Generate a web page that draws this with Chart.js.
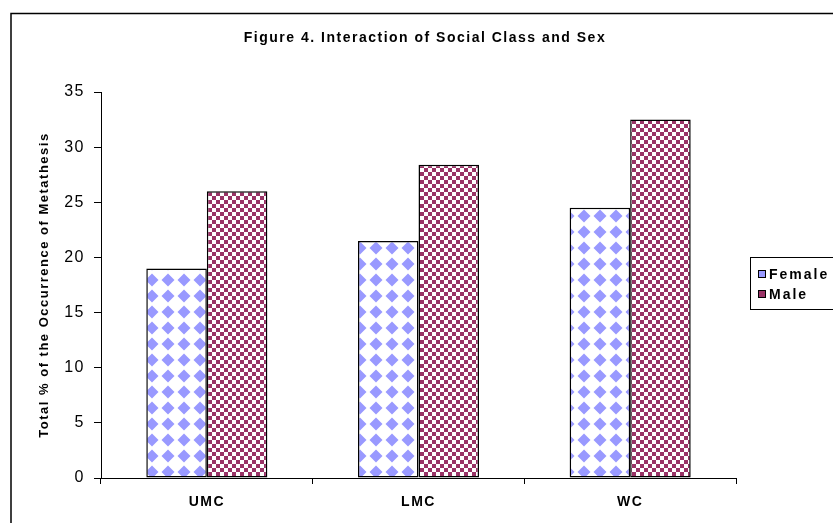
<!DOCTYPE html>
<html>
<head>
<meta charset="utf-8">
<script src="https://cdn.jsdelivr.net/npm/chart.js@4/dist/chart.umd.min.js"></script>
<style>
  html, body { margin: 0; padding: 0; background: #fff; }
  #wrap { width: 833px; height: 523px; }
</style>
</head>
<body>
<div id="wrap"><canvas id="chart" width="833" height="523"></canvas></div>
<script>
// Data
const classes = ['UMC', 'LMC', 'WC'];
const femaleValues = [19, 21.5, 24.5];
const maleValues = [26, 28.4, 32.5];
const seriesNames = ['Female', 'Male'];
const yTicks = [0, 5, 10, 15, 20, 25, 30, 35];

const FEMALE_COLOR = '#9999FF';
const MALE_COLOR = '#993366';
const FONT = '"Liberation Sans", Arial, sans-serif';

// Fill patterns like the old Excel ones
function diamondPattern() {
    const c = document.createElement('canvas');
    c.width = 16; c.height = 16;
    const g = c.getContext('2d');
    g.fillStyle = '#fff';
    g.fillRect(0, 0, 16, 16);
    g.fillStyle = FEMALE_COLOR;
    g.beginPath();
    g.moveTo(8, 1.5);
    g.lineTo(14.5, 8);
    g.lineTo(8, 14.5);
    g.lineTo(1.5, 8);
    g.closePath();
    g.fill();
    return g.createPattern(c, 'repeat');
}

function checkerPattern() {
    const c = document.createElement('canvas');
    c.width = 8; c.height = 8;
    const g = c.getContext('2d');
    g.fillStyle = '#fff';
    g.fillRect(0, 0, 8, 8);
    g.fillStyle = MALE_COLOR;
    g.fillRect(0, 0, 4, 4);
    g.fillRect(4, 4, 4, 4);
    return g.createPattern(c, 'repeat');
}

// Excel-style wide text: spread the letters a bit
const spacing = {
    id: 'spacing',
    beforeLayout(chart) { chart.ctx.letterSpacing = '1.5px'; },
    beforeDraw(chart) { chart.ctx.letterSpacing = '1.5px'; }
};

// Outer frame, title and the boxed legend
const decorations = {
    id: 'decorations',
    afterDraw(chart) {
        const ctx = chart.ctx;
        ctx.save();
        ctx.strokeStyle = '#000';
        ctx.lineWidth = 1.5;
        ctx.strokeRect(11, 13.5, 900, 600);

        ctx.fillStyle = '#000';
        ctx.letterSpacing = '1.5px';
        ctx.font = 'bold 14px ' + FONT;
        ctx.textAlign = 'center';
        ctx.textBaseline = 'alphabetic';
        ctx.fillText('Figure 4. Interaction of Social Class and Sex', 425, 42);

        // legend box
        ctx.lineWidth = 1;
        ctx.strokeRect(750.5, 257.5, 120, 52);
        const swatches = [FEMALE_COLOR, MALE_COLOR];
        ctx.textAlign = 'left';
        ctx.textBaseline = 'middle';
        ctx.letterSpacing = '2px';
        ctx.font = 'bold 14px ' + FONT;
        seriesNames.forEach((name, i) => {
            const y = 274 + i * 20;
            ctx.fillStyle = swatches[i];
            ctx.fillRect(758, y - 4, 8, 8);
            ctx.strokeStyle = '#000';
            ctx.strokeRect(758.5, y - 3.5, 7, 7);
            ctx.fillStyle = '#000';
            ctx.fillText(name, 769, y + 1);
        });
        ctx.restore();
    }
};

const ctx = document.getElementById('chart').getContext('2d');

const chart = new Chart(ctx, {
    type: 'bar',
    data: {
        labels: classes,
        datasets: [
            {
                label: seriesNames[0],
                data: femaleValues,
                backgroundColor: diamondPattern(),
                borderColor: '#000',
                borderWidth: 1.5,
                borderSkipped: false
            },
            {
                label: seriesNames[1],
                data: maleValues,
                backgroundColor: checkerPattern(),
                borderColor: '#000',
                borderWidth: 1.5,
                borderSkipped: false
            }
        ]
    },
    options: {
        responsive: false,
        animation: false,
        layout: {
            padding: { left: 0, top: 92, right: 97, bottom: 0 }
        },
        datasets: {
            bar: { categoryPercentage: 0.572, barPercentage: 1.0 }
        },
        plugins: {
            legend: { display: false },
            title: { display: false },
            tooltip: { enabled: false }
        },
        scales: {
            x: {
                grid: {
                    offset: true,
                    drawOnChartArea: false,
                    tickLength: 6,
                    color: '#000'
                },
                border: { color: '#000', width: 1 },
                ticks: {
                    color: '#000',
                    padding: 10,
                    font: { family: FONT, size: 14, weight: 'bold' }
                },
                afterFit(scale) { scale.height = 45; }
            },
            y: {
                min: 0,
                max: 35,
                afterBuildTicks(scale) {
                    scale.ticks = yTicks.map(v => ({ value: v }));
                },
                grid: {
                    drawOnChartArea: false,
                    tickLength: 7,
                    color: '#000'
                },
                border: { color: '#000', width: 1 },
                ticks: {
                    color: '#000',
                    padding: 9,
                    font: { family: FONT, size: 16 }
                },
                title: {
                    display: true,
                    text: 'Total % of the Occurrence of Metathesis',
                    color: '#000',
                    padding: { top: 37, bottom: 0 },
                    font: { family: FONT, size: 13, weight: 'bold' }
                },
                afterFit(scale) { scale.width = 101; }
            }
        }
    },
    plugins: [spacing, decorations]
});
</script>
</body>
</html>
